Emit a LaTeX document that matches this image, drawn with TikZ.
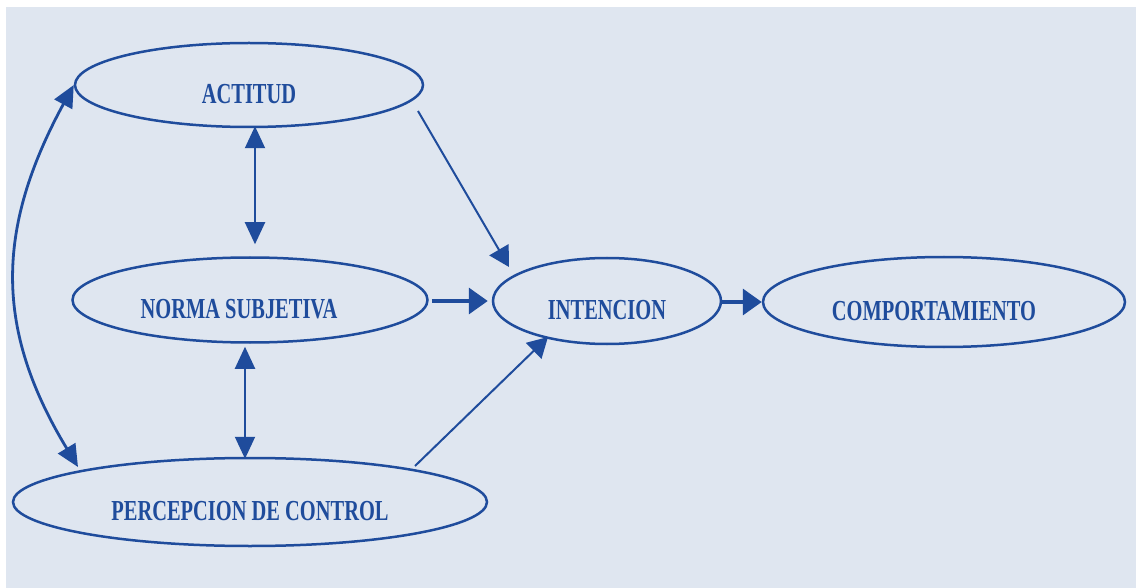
\documentclass[tikz,border=0pt]{standalone}
\usepackage{fontspec}
\setmainfont{Liberation Serif}
\usetikzlibrary{shapes.geometric,arrows.meta,calc}
\definecolor{bg}{HTML}{DFE6F0}
\definecolor{ink}{HTML}{1F4C9C}
% condensed bold caps used for every label
\newcommand\lbl[1]{\scalebox{0.705}[1]{#1}}
\begin{document}
\begin{tikzpicture}[x=1pt,y=-1pt,
  oval/.style={ellipse, draw=ink, line width=2.5pt, inner sep=0pt,
    text=ink, font=\fontsize{29}{29}\selectfont\bfseries,
    text height=37pt, text depth=0pt},
  link/.style={draw=ink, line width=2pt, -{Triangle[length=20pt,width=22pt]}},
  both/.style={draw=ink, line width=2pt,
    {Triangle[length=22pt,width=20pt]}-{Triangle[length=22pt,width=20pt]}},
  thick link/.style={draw=ink, line width=3.6pt, -{Triangle[length=19pt,width=26pt]}}]

% page and panel
\fill[white] (0,0) rectangle (1136,588);
\fill[bg] (6,7) rectangle (1136,588);
\useasboundingbox (0,0) rectangle (1136,588);

% constructs
\node[oval, minimum width=348pt, minimum height=84pt] (act)  at (249,85)  {\lbl{ACTITUD}};
\node[oval, minimum width=355pt, minimum height=85pt] (norm) at (250,300) {\hspace*{-22pt}\lbl{NORMA SUBJETIVA}};
\node[oval, minimum width=474pt, minimum height=88pt] (perc) at (250,502) {\lbl{PERCEPCION DE CONTROL}};
\node[oval, minimum width=228pt, minimum height=86pt] (int)  at (607,301) {\lbl{INTENCION}};
\node[oval, minimum width=362pt, minimum height=90pt] (comp) at (944,302) {\hspace*{-20pt}\lbl{COMPORTAMIENTO}};

% mutual influences between the antecedents
\draw[both, shorten <=-2pt, shorten >=12pt] ([xshift=6pt]act.south) -- ([xshift=5pt]norm.north);
\draw[both, shorten <=3pt, shorten >=-2pt] ([xshift=-5pt]norm.south) -- ([xshift=-5pt]perc.north);
\draw[both, line width=2.8pt] (act.west) .. controls (-5,230) and (-5,330) .. ($(perc.center)+(-172,-35)$);

% antecedents feed the intention
\draw[link] ($(act.center)+(169,26)$) -- ($(int.center)+(-98,-34)$);
\draw[thick link, shorten <=3pt, shorten >=4pt] ([yshift=-1pt]norm.east) -- (int.west);
\draw[link] ($(perc.center)+(165,-36)$) -- ($(int.center)+(-59,36)$);

% intention leads to behaviour
\draw[thick link] ([yshift=-1pt]int.east) -- (comp.west);
\end{tikzpicture}
\end{document}
